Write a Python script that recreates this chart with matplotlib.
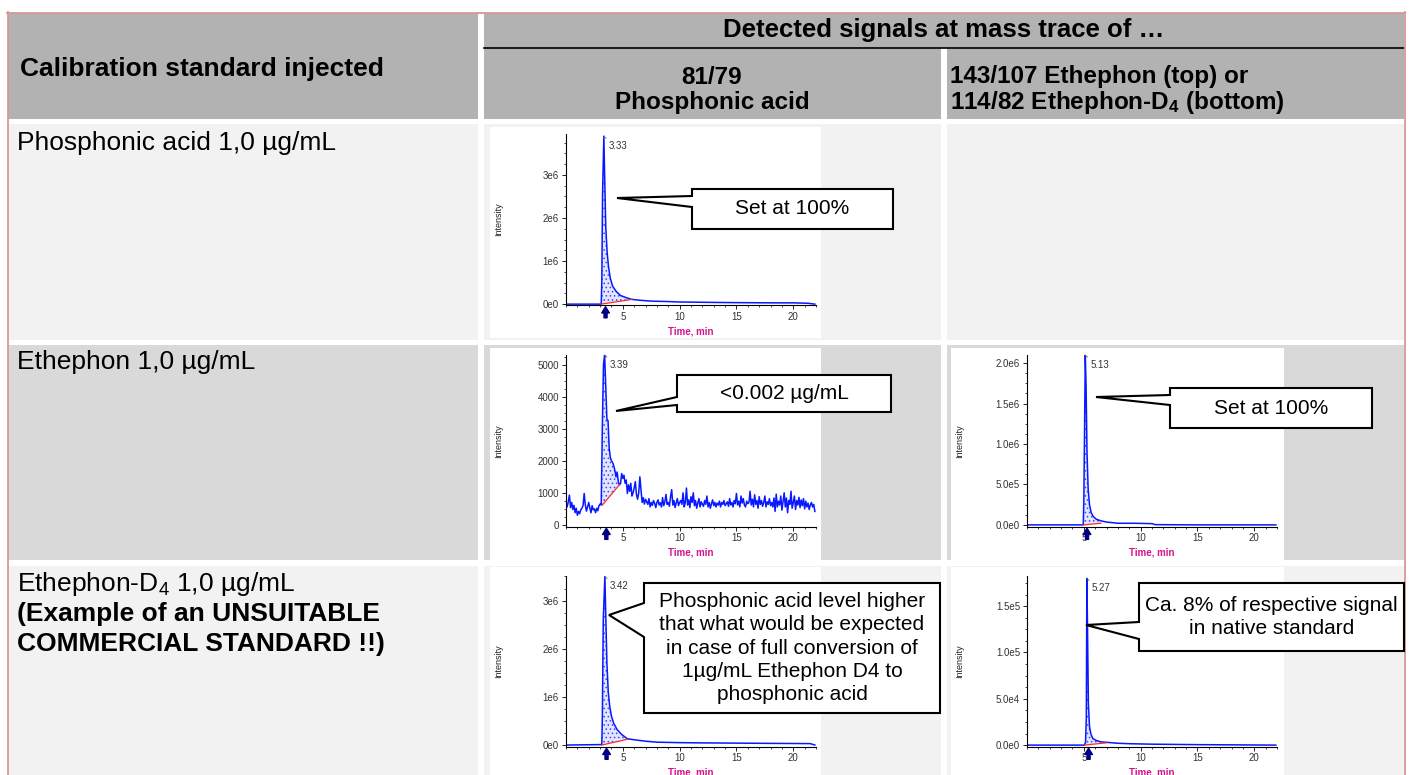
import numpy as np
import matplotlib
matplotlib.use('Agg')
import matplotlib.pyplot as plt
from matplotlib.patches import Rectangle, Polygon
from matplotlib.ticker import MultipleLocator, AutoMinorLocator

plt.rcParams['font.family'] = ['Liberation Sans', 'DejaVu Sans']
plt.rcParams['mathtext.default'] = 'regular'
plt.rcParams['hatch.linewidth'] = 0.6

# ---- table text ----
header_left = 'Calibration standard injected'
header_top = 'Detected signals at mass trace of …'
col2_head = ['81/79', 'Phosphonic acid']
col3_head = ['143/107 Ethephon (top) or', '114/82 Ethephon-D$_4$ (bottom)']
row_labels = ['Phosphonic acid 1,0 µg/mL', 'Ethephon 1,0 µg/mL', 'Ethephon-D$_4$ 1,0 µg/mL']
row3_note = ['(Example of an UNSUITABLE', 'COMMERCIAL STANDARD !!)']

# ---- chromatograms (time in min, intensity in cps) ----
# phosphonic acid standard, trace 81/79
pa_t = [0, 3.10, 3.15, 3.22, 3.33, 3.40, 3.50, 3.62, 3.75, 3.90, 4.10, 4.40, 4.80, 5.30,
        5.80, 6.50, 7.50, 9.0, 10.0, 11.5, 13.0, 15.0, 18.0, 20.0, 21.3, 21.9]
pa_y = [0, 0, 0.5e6, 2.6e6, 3.9e6, 3.0e6, 1.8e6, 1.2e6, 0.85e6, 0.6e6, 0.42e6, 0.3e6, 0.2e6,
        0.15e6, 0.11e6, 0.09e6, 0.07e6, 0.06e6, 0.05e6, 0.045e6, 0.04e6, 0.035e6, 0.03e6,
        0.03e6, 0.02e6, 0.0]
pa_base_t = [3.10, 5.80]
pa_base_y = [0, 0.11e6]
pa_rt = '3.33'
pa_peak = (3.33, 3.9e6)
pa_yticks = [0, 1e6, 2e6, 3e6]
pa_ylabels = ['0e0', '1e6', '2e6', '3e6']

# ethephon standard, trace 81/79 (noisy, 0.1 min sampling from t=0)
eth_pa_y = [650, 560, 720, 930, 540, 700, 480, 610, 380, 520,
            300, 420, 350, 470, 520, 600, 980, 620, 430, 560,
            700, 520, 380, 600, 470, 500, 380, 520, 440, 600,
            650, 620,
            3100, 5000, 5300, 4300, 3300, 3250, 2400, 2100, 2000, 1950,
            1850, 1700, 1500, 1650, 1350, 1250,
            1290, 1600, 1450, 1550, 1300, 1400, 980, 1250, 1050, 1300,
            900, 1000, 1150, 1350, 950, 800, 1000, 1500, 1100, 700,
            850, 650, 800,
            720, 640, 820, 560, 700, 610, 760, 680, 540, 700,
            780, 620, 690, 560, 850, 600, 720, 950, 640, 700,
            580, 880, 1100, 620, 760, 540, 690, 820, 600, 700,
            760, 640, 1000, 560, 700, 1150, 620, 780, 540, 880,
            700, 1000, 600, 760, 520, 680, 820, 560, 720, 640,
            580, 760, 640, 900, 560, 700, 520, 660, 780, 600,
            700, 560, 680, 620, 740, 560, 700, 640, 760, 600,
            660, 720, 580, 820, 620, 700, 560, 760, 660, 980,
            620, 740, 560, 900, 680, 820, 620, 560, 740, 660,
            700, 1050, 620, 800, 560, 940, 640, 760, 520, 880,
            640, 760, 580, 700, 900, 560, 720, 640, 820, 600,
            700, 560, 840, 420, 960, 560, 740, 620, 900, 460,
            720, 1000, 560, 840, 380, 760, 640, 1050, 520, 700,
            900, 480, 760, 620, 860, 540, 780, 600, 820, 500,
            740, 560, 680, 480, 620, 700, 560, 640, 420]
eth_pa_dt = 0.1
eth_pa_base_t = [3.2, 4.7]
eth_pa_base_y = [620, 1250]
eth_pa_rt = '3.39'
eth_pa_peak = (3.4, 5300)
eth_pa_yticks = [0, 1000, 2000, 3000, 4000, 5000]
eth_pa_ylabels = ['0', '1000', '2000', '3000', '4000', '5000']

# ethephon standard, trace 143/107
eth_t = [0, 4.95, 5.00, 5.06, 5.13, 5.20, 5.28, 5.38, 5.50, 5.65, 5.85, 6.10, 6.50, 7.00,
         8.00, 9.50, 11.0, 11.3, 15.0, 21.9]
eth_y = [0, 0, 0.3e6, 1.1e6, 2.1e6, 1.7e6, 0.9e6, 0.45e6, 0.25e6, 0.15e6, 0.1e6, 0.07e6,
         0.05e6, 0.035e6, 0.02e6, 0.02e6, 0.015e6, 0.003e6, 0, 0]
eth_base_t = [4.95, 6.50]
eth_base_y = [0, 0.02e6]
eth_rt = '5.13'
eth_peak = (5.13, 2.1e6)
eth_yticks = [0, 0.5e6, 1.0e6, 1.5e6, 2.0e6]
eth_ylabels = ['0.0e0', '5.0e5', '1.0e6', '1.5e6', '2.0e6']

# ethephon-D4 standard, trace 81/79
d4_pa_t = [0, 3.15, 3.20, 3.28, 3.42, 3.50, 3.60, 3.72, 3.85, 4.00, 4.20, 4.50, 4.90, 5.40,
           6.00, 7.00, 8.00, 10.0, 12.0, 15.0, 18.0, 21.5, 21.9]
d4_pa_y = [0, 0.01e6, 0.6e6, 2.6e6, 3.5e6, 2.7e6, 1.7e6, 1.1e6, 0.8e6, 0.6e6, 0.45e6,
           0.32e6, 0.22e6, 0.13e6, 0.11e6, 0.08e6, 0.06e6, 0.05e6, 0.045e6, 0.04e6,
           0.035e6, 0.03e6, 0.0]
d4_pa_base_t = [3.15, 5.40]
d4_pa_base_y = [0, 0.12e6]
d4_pa_rt = '3.42'
d4_pa_peak = (3.42, 3.5e6)
d4_pa_yticks = [0, 1e6, 2e6, 3e6]
d4_pa_ylabels = ['0e0', '1e6', '2e6', '3e6']

# ethephon-D4 standard, trace 114/82
d4_t = [0, 5.05, 5.15, 5.22, 5.27, 5.33, 5.40, 5.50, 5.62, 5.80, 6.10, 6.50, 7.00, 8.00,
        9.00, 11.0, 15.0, 21.9]
d4_y = [0, 0, 3e3, 3e4, 1.8e5, 1.22e5, 4.5e4, 2e4, 1.2e4, 7e3, 5e3, 3.5e3, 3e3, 2e3,
        1.5e3, 1e3, 5e2, 0]
d4_base_t = [5.05, 7.00]
d4_base_y = [0, 2.5e3]
d4_rt = '5.27'
d4_peak = (5.27, 1.8e5)
d4_yticks = [0, 5e4, 1e5, 1.5e5]
d4_ylabels = ['0.0e0', '5.0e4', '1.0e5', '1.5e5']

W, H = 1410, 775
fig = plt.figure(figsize=(W / 100, H / 100), dpi=100)


def fx(x):
    return x / W


def fy(y):
    return 1 - y / H


def add_rect(x0, y0, x1, y1, color, z=-10):
    fig.add_artist(Rectangle((fx(x0), fy(y1)), (x1 - x0) / W, (y1 - y0) / H,
                             transform=fig.transFigure, facecolor=color,
                             edgecolor='none', zorder=z))


def add_line(xs, ys, color, lw, z=-5):
    fig.add_artist(plt.Line2D([fx(x) for x in xs], [fy(y) for y in ys],
                              transform=fig.transFigure, color=color, lw=lw, zorder=z))


def callout(x0, y0, x1, y1, tip, wy, text, fs=15, ls=1.1):
    pts = [(x0, y0), (x1, y0), (x1, y1), (x0, y1), (x0, wy[1]), tip, (x0, wy[0])]
    fig.add_artist(Polygon([(fx(x), fy(y)) for x, y in pts], closed=True,
                           transform=fig.transFigure, facecolor='white',
                           edgecolor='black', lw=1.5, zorder=5))
    fig.text(fx((x0 + x1) / 2), fy((y0 + y1) / 2), text, ha='center', va='center',
             fontsize=fs, linespacing=ls, zorder=6)


def chromatogram(box, t, y, base_t, base_y, rt, peak, yticks, ylabels, ylim):
    x0, y0, x1, y1 = box
    ax = fig.add_axes([fx(x0), fy(y1), (x1 - x0) / W, (y1 - y0) / H])
    ax.set_facecolor('white')
    t = np.asarray(t, dtype=float)
    y = np.asarray(y, dtype=float)
    m = (t >= base_t[0] - 1e-9) & (t <= base_t[1] + 1e-9)
    yb = np.interp(t[m], base_t, base_y)
    ax.fill_between(t[m], yb, y[m], facecolor='#e2e5ff', edgecolor='#3548ff',
                    hatch='....', lw=0, zorder=1)
    ax.plot(t, y, color='#0818ff', lw=1.1, zorder=2)
    ax.plot(base_t, base_y, color='#ff2a2a', lw=0.9, zorder=3)
    ax.set_xlim(0, 22)
    ax.set_ylim(*ylim)
    for s in ['top', 'right']:
        ax.spines[s].set_visible(False)
    for s in ['left', 'bottom']:
        ax.spines[s].set_linewidth(0.8)
    ax.xaxis.set_major_locator(MultipleLocator(5))
    ax.xaxis.set_minor_locator(MultipleLocator(1))
    ax.set_xticks([5, 10, 15, 20], ['5', '10', '15', '20'])
    ax.set_yticks(yticks, ylabels)
    ax.yaxis.set_minor_locator(AutoMinorLocator(4))
    ax.tick_params(which='major', direction='out', length=3, width=0.6,
                   labelsize=7, labelcolor='#333333', pad=2)
    ax.tick_params(which='minor', direction='out', length=1.5, width=0.5)
    ax.set_xlabel('Time, min', fontsize=7, color='#d4148c', fontweight='bold')
    ax.xaxis.set_label_coords(0.5, -0.125)
    ax.set_ylabel('Intensity', fontsize=6.5, color='#222222', va='center')
    ax.yaxis.set_label_coords(-0.27, 0.5)
    # retention time label
    ax.annotate(rt, xy=peak, xytext=(5, -5), textcoords='offset pixels',
                ha='left', va='top', fontsize=7, color='#333333',
                arrowprops=dict(arrowstyle='-', color='#666666', lw=0.6,
                                shrinkA=0, shrinkB=0, relpos=(0, 1)))
    # peak marker below axis
    ax.annotate('', xy=(peak[0] + 0.15, -0.01), xytext=(peak[0] + 0.15, -0.075),
                xycoords=ax.get_xaxis_transform(), annotation_clip=False,
                arrowprops=dict(arrowstyle='simple,head_length=0.45,head_width=0.55,tail_width=0.22',
                                fc='#000080', ec='#000080', shrinkA=0, shrinkB=0))
    return ax


# ---- table background ----
add_rect(8, 13, 478, 119, '#b2b2b2')
add_rect(484, 13, 1404, 119, '#b2b2b2')
add_rect(941, 48, 947, 119, 'white', z=-9)
row_spans = [(124, 340, '#f2f2f2'), (345, 560, '#d9d9d9'), (566, 776, '#f2f2f2')]
for r0, r1, c in row_spans:
    add_rect(8, r0, 478, r1, c)
    add_rect(484, r0, 941, r1, c)
    add_rect(947, r0, 1404, r1, c)
add_line([484, 1404], [47.5, 47.5], 'black', 1.2)
add_line([7.5, 7.5], [12, 776], '#d99694', 1.3)
add_line([1404.5, 1404.5], [12, 776], '#d99694', 1.3)
add_line([7, 1405], [12.5, 12.5], '#d99694', 1.3)

# white picture areas
add_rect(490, 127, 821, 338, 'white', z=-8)
add_rect(490, 348, 821, 560, 'white', z=-8)
add_rect(951, 348, 1284, 560, 'white', z=-8)
add_rect(490, 567, 821, 776, 'white', z=-8)
add_rect(951, 567, 1284, 776, 'white', z=-8)

# ---- header text ----
fig.text(fx(20), fy(69), header_left, fontsize=19, fontweight='bold', va='center')
fig.text(fx(944), fy(30), header_top, fontsize=18.5, fontweight='bold', ha='center', va='center')
fig.text(fx(712), fy(77), col2_head[0], fontsize=17.5, fontweight='bold', ha='center', va='center')
fig.text(fx(712), fy(103), col2_head[1], fontsize=17.5, fontweight='bold', ha='center', va='center')
fig.text(fx(950), fy(77), col3_head[0], fontsize=17.5, fontweight='bold', va='center')
fig.text(fx(950), fy(103), col3_head[1], fontsize=17.5, fontweight='bold', va='center')

# ---- row labels ----
fig.text(fx(17), fy(143), row_labels[0], fontsize=19, va='center')
fig.text(fx(17), fy(362), row_labels[1], fontsize=19, va='center')
fig.text(fx(17), fy(584), row_labels[2], fontsize=19, va='center')
fig.text(fx(17), fy(614), row3_note[0], fontsize=19, fontweight='bold', va='center')
fig.text(fx(17), fy(644), row3_note[1], fontsize=19, fontweight='bold', va='center')

# ---- chromatograms ----
chromatogram((566, 134, 816, 305), pa_t, pa_y, pa_base_t, pa_base_y, pa_rt, pa_peak,
             pa_yticks, pa_ylabels, (-0.02e6, 3.95e6))
eth_pa_t = np.round(np.arange(len(eth_pa_y)) * eth_pa_dt, 2)
chromatogram((566, 355, 816, 526.5), eth_pa_t, eth_pa_y, eth_pa_base_t, eth_pa_base_y,
             eth_pa_rt, eth_pa_peak, eth_pa_yticks, eth_pa_ylabels, (-50, 5300))
chromatogram((1027, 355, 1277, 526.5), eth_t, eth_y, eth_base_t, eth_base_y, eth_rt,
             eth_peak, eth_yticks, eth_ylabels, (-0.02e6, 2.1e6))
chromatogram((566, 576, 816, 746.5), d4_pa_t, d4_pa_y, d4_pa_base_t, d4_pa_base_y,
             d4_pa_rt, d4_pa_peak, d4_pa_yticks, d4_pa_ylabels, (-0.03e6, 3.51e6))
chromatogram((1027, 576, 1277, 746.5), d4_t, d4_y, d4_base_t, d4_base_y, d4_rt, d4_peak,
             d4_yticks, d4_ylabels, (-0.15e4, 1.825e5))

# ---- callouts ----
callout(692, 189, 893, 229, (617, 198), (196, 207), 'Set at 100%')
callout(677, 375, 891, 412, (616, 411), (397, 405), '<0.002 µg/mL')
callout(1170, 388, 1372, 428, (1096, 397), (395, 405), 'Set at 100%')
callout(644, 583, 940, 713, (609, 615), (603, 637),
        'Phosphonic acid level higher\nthat what would be expected\nin case of full conversion of\n'
        '1µg/mL Ethephon D4 to\nphosphonic acid', ls=1.27)
callout(1139, 583, 1404, 651, (1086, 625), (622, 639),
        'Ca. 8% of respective signal\nin native standard', ls=1.3)

fig.savefig('out.png', dpi=100)
